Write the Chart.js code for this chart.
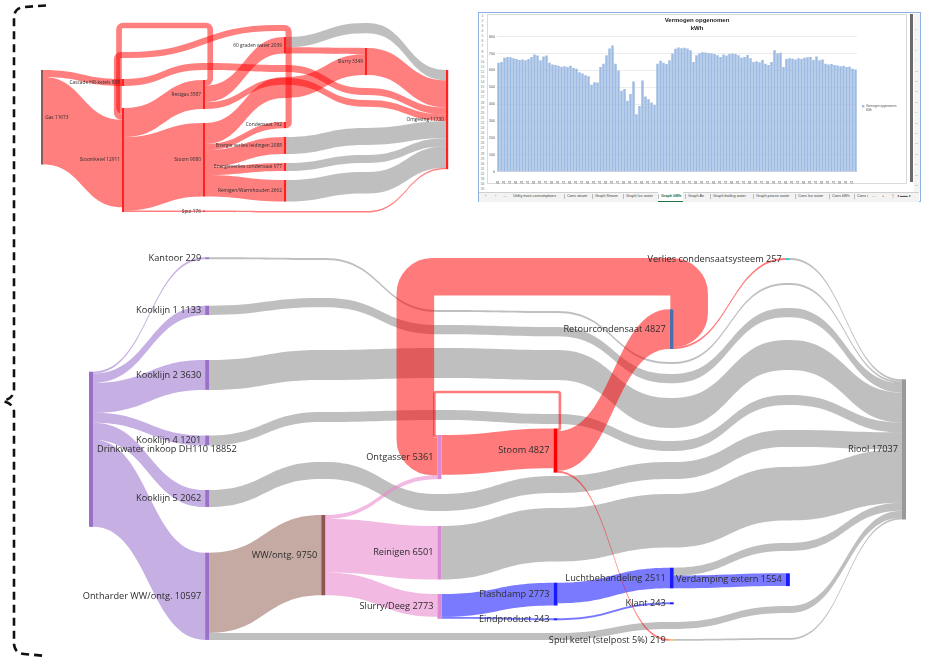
<!DOCTYPE html>
<html><head><meta charset="utf-8">
<script src="https://cdn.jsdelivr.net/npm/chart.js@4.4.1/dist/chart.umd.min.js"></script>
<style>
html,body{margin:0;padding:0;background:#fff;}
body{width:932px;height:660px;position:relative;overflow:hidden;font-family:"Open Sans",sans-serif;}
.box{position:absolute;}
#xl{position:absolute;left:478px;top:12px;width:443px;height:190px;border:1.5px solid #8eb1e3;box-sizing:border-box;background:#fff;}
.tiny{position:absolute;transform-origin:0 0;transform:scale(0.5);white-space:nowrap;font-family:"Liberation Sans",sans-serif;color:#555;}
</style></head><body>
<svg width="60" height="660" style="position:absolute;left:0;top:0">
<path d="M 46 5.5 L 24 7 Q 14 8 14 18 V 390 Q 14 398 3 401 Q 14 404 14 412 V 643 Q 14 653 24 654 L 46 656" fill="none" stroke="#111" stroke-width="2.6" stroke-dasharray="8 5"/>
</svg>

<div class="box" style="left:30px;top:15px;width:430px;height:205px"><canvas id="cSmall"></canvas></div>

<div id="xl">
  <div class="box" style="left:7.5px;top:0.5px;width:420px;height:170px;border:1px solid #dadada;box-sizing:border-box"></div>
  <div class="box" style="left:7.5px;top:0.5px;width:420px;height:170px"><canvas id="cKwh"></canvas></div>
  <div class="box" style="left:430.5px;top:0.5px;width:3px;height:168px;background:#6a6a6a"></div>
  <div class="box" style="left:434.5px;top:0.5px;width:6px;height:178px;background:#f4f4f4"></div>
  <div class="box" style="left:0;top:179px;width:440px;height:9px;background:#f3f3f3;border-top:0.5px solid #d0d0d0"></div>
  <div class="box" style="left:179px;top:179px;width:25px;height:8.5px;background:#fff;border-bottom:1px solid #217346"></div>
  <div id="xlText"></div>
</div>

<div class="box" style="left:0;top:230px;width:932px;height:430px"><canvas id="cMain"></canvas></div>

<script>
// ================= MAIN SANKEY DATA =================
const mainNodes = ["Drinkwater inkoop DH110","Kantoor","Kooklijn 1","Kooklijn 2","Kooklijn 4","Kooklijn 5",
  "Ontharder WW/ontg.","WW/ontg.","Ontgasser","Reinigen","Slurry/Deeg","Stoom","Flashdamp","Eindproduct",
  "Retourcondensaat","Luchtbehandeling","Klant","Spul ketel (stelpost 5%)","Verlies condensaatsysteem",
  "Verdamping extern","Riool"];
const mainNodeValues = [18852,229,1133,3630,1201,2062,10597,9750,5361,6501,2773,4827,2773,243,4827,2511,243,219,257,1554,17037];
const mainLinkSource = [0,0,0,0,0,0,6,11,14,7,7,7,8,11,11,14,10,10,12,13,18,1,2,3,4,5,9,15,6,17,15];
const mainLinkTarget = [1,2,3,4,5,6,7,8,8,8,9,10,11,14,17,18,12,13,15,16,20,20,20,20,20,20,20,20,20,20,19];
const mainLinkValue  = [229,1133,3630,1201,2062,10597,9750,315,4570,476,6501,2773,4827,4827,219,257,2773,243,2511,243,257,229,1133,3630,1201,2062,6501,957,847,219,1554];

// layout (column index, top position in value units)
const mainNodeColumn = [0,1,1,1,1,1,1,2,3,3,3,4,4,4,5,5,5,5,6,6,7];
const mainNodeTop = [17217,3317,9198,15795,24968,31590,39208,34628,24908,35964,44226,24118,42853,47178,9635,41030,45234,49694,3402,41711,18140];
const mainNodeColor = ['#9a70c8','#9a70c8','#9a70c8','#9a70c8','#9a70c8','#9a70c8','#9a70c8','#8e5551',
  '#d98ad3','#d98ad3','#d98ad3','#ff0000','#1a1aff','#1a1aff','#4b6fa8','#1a1aff','#1a1aff','#f5c06a','#3ec9d6','#1a1aff','#999999'];
const mainLinkKind = ['purple','purple','purple','purple','purple','purple','brown','red','red','pink','pink','pink',
  'red','red','red','red','blue','blue','blue','blue','grey','grey','grey','grey','grey','grey','grey','grey','grey','grey','blue'];
const mainLinkVia = {21:[3402,9720,9842,16038,6440], 22:[8262,11543,11786,17496,9477], 23:[14580,14337,14580,20412,13365],
  24:[22113,21870,22356,25637,20048], 25:[28188,32076,29889,28188,24300], 26:[33777,32076,28796], 27:[38030],
  28:[48965,48965,48965,47628,45684], 29:[49572]};
const mainLinkLoop = {7:{lane:[19683,19683],pad:[0.02,0.026],r:2}, 8:{lane:[5686,5686],pad:[0.133,0.19],r:17}};

// ================= SMALL SANKEY DATA =================
const smallNodes = ["Gas","Cascade HR-ketels","Stoomketel","Restgas","Stoom","Spui","60 graden water","Condensaat",
  "Energie verlies leidingen","Energieverlies condensaat","Reinigen/Warmhouden","Slurry","Omgeving"];
const smallNodeValues = [11673,865,12911,3587,9080,176,2039,762,2088,977,2662,3349,11730];
const smallLinkSource = [0,3,7,0,2,2,2,3,6,6,4,4,4,4,4,11,1,3,8,9,10,5];
const smallLinkTarget = [1,2,2,2,3,4,5,6,12,11,11,7,8,9,10,12,12,12,12,12,12,12];
const smallLinkValue  = [865,700,762,10808,3587,9080,176,2039,1281,758,2591,762,2088,977,2662,3349,865,848,2088,977,2662,176];
const smallNodeColumn = [0,1,1,2,2,2,3,3,3,3,3,4,5];
const smallNodeTop = [6793,7904,11486,8028,13338,24144,2717,13215,15067,18278,20378,4076,6793];
const smallNodeColor = ['#8b5a5a','#ff2020','#ff2020','#ff2020','#ff2020','#ff2020','#ff2020','#ff2020','#ff2020','#ff2020','#ff2020','#ff2020','#ff2020'];
const smallLinkKind = ['red','red','red','red','red','red','red','red','grey','red','red','red','red','red','red','red','red','red','grey','grey','grey','red'];
const smallLinkVia = {10:[7657], 16:[5928,6175,9016], 17:[7781,10498], 8:[988], 18:[13956], 19:[17290], 20:[19390], 21:[24206,24206]};
const smallLinkLoop = {1:{lane:[1297,1297],pad:[0.062,0.037],r:4}, 2:{lane:[1606,4940],pad:[0.03,0.062],r:4}};

// ================= KWH BAR CHART DATA =================
const kwhValues = [645,650,675,680,678,672,668,662,665,660,668,680,695,688,660,682,688,645,635,632,
  628,622,625,620,628,615,610,590,582,572,565,515,530,528,620,640,690,730,748,640,
  600,480,490,420,460,535,340,390,540,445,430,410,395,640,658,645,638,660,700,728,
  736,732,735,730,720,650,690,702,708,706,704,700,698,690,680,695,688,698,700,698,
  690,675,680,692,672,650,655,648,662,640,632,650,720,700,705,620,668,672,670,665,
  672,668,675,678,680,662,682,660,665,640,635,638,632,630,625,628,620,622,610,605];
const kwhLabels = kwhValues.map((_, i) => {
  const mins = 6 * 60 + i * 10; const h = Math.floor(mins / 60) % 24, mm = mins % 60;
  return String(h).padStart(2,'0') + ':' + String(mm).padStart(2,'0');
});
const kwhYTicks = [0,100,200,300,400,500,600,700,800];
const sheetTabs = ['Utility main consumptions','Cons steam','Graph Steam','Graph Ice water','Graph kWh','Graph Air','Graph boiling water','Graph proces water','Cons Ice water','Cons kWh','Cons i'];

// ================= SANKEY PLUGIN =================
const palette = {grey:'rgba(128,128,128,0.5)', purple:'rgba(140,95,200,0.5)', brown:'rgba(150,100,90,0.55)',
  pink:'rgba(232,135,205,0.58)', blue:'rgba(0,0,255,0.52)', red:'rgba(255,0,0,0.52)'};
const smallPalette = {grey:'rgba(128,128,128,0.5)', red:'rgba(255,0,0,0.5)'};
const layerOrder = {grey:0, purple:1, brown:2, pink:3, blue:4, red:5};

const sankeyPlugin = {
  id: 'sankey',
  afterDatasetsDraw(chart, args, o) {
    if (!o || !o.names) return;
    const ctx = chart.ctx, xs = chart.scales.x, ys = chart.scales.y;
    const X = c => xs.getPixelForValue(c);
    const Y = v => ys.getPixelForValue(v);
    const n = o.names.length, m = o.source.length;
    const inSum = new Array(n).fill(0), outSum = new Array(n).fill(0);
    for (let i = 0; i < m; i++) { outSum[o.source[i]] += o.value[i]; inSum[o.target[i]] += o.value[i]; }
    const size = inSum.map((v, i) => Math.max(v, outSum[i]));
    const outOff = new Array(n).fill(0), inOff = new Array(n).fill(0);
    const links = [];
    for (let i = 0; i < m; i++) {
      const s = o.source[i], t = o.target[i], v = o.value[i];
      const sTop = o.top[s] + outOff[s]; outOff[s] += v;
      const tTop = o.top[t] + inOff[t]; inOff[t] += v;
      links.push({i, s, t, v, sTop, tTop});
    }
    const W = o.nodeWidth;
    const order = links.slice().sort((a, b) => (layerOrder[o.kind[a.i]] - layerOrder[o.kind[b.i]]) || (a.i - b.i));
    ctx.save();
    for (const L of order) {
      const color = o.palette[o.kind[L.i]];
      const loop = o.loops[L.i];
      const xs0 = X(o.column[L.s]) + W, xt0 = X(o.column[L.t]);
      if (loop) {
        const th = Y(L.sTop + L.v) - Y(L.sTop);
        const y0 = Y(L.sTop + L.v / 2), y1 = Y(L.tTop + L.v / 2);
        const xr = X(o.column[L.s] + loop.pad[0]) + W, xl = X(o.column[L.t] - loop.pad[1]);
        const yR = Y(loop.lane[0]), yL = Y(loop.lane[1]);
        const r1 = Math.min(loop.r, xr - xs0, Math.abs(y0 - yR) / 2);
        const r2 = Math.min(loop.r, Math.abs(y0 - yR) / 2, Math.abs(xr - xl) / 2);
        const r3 = Math.min(loop.r, Math.abs(y1 - yL) / 2, Math.abs(xr - xl) / 2);
        const r4 = Math.min(loop.r, xt0 - xl, Math.abs(y1 - yL) / 2);
        ctx.beginPath();
        ctx.moveTo(xs0, y0);
        ctx.arcTo(xr, y0, xr, yR, r1);
        ctx.arcTo(xr, yR, xl, yR, r2);
        if (Math.abs(yR - yL) > 0.5) {
          const a = xr - r2 - 8, b = xl + r3 + 8;
          ctx.lineTo(a, yR);
          const mx = (a + b) / 2;
          ctx.bezierCurveTo(mx, yR, mx, yL, b, yL);
        }
        ctx.arcTo(xl, yL, xl, y1, r3);
        ctx.arcTo(xl, y1, xt0, y1, r4);
        ctx.lineTo(xt0, y1);
        ctx.lineWidth = th; ctx.strokeStyle = color; ctx.lineCap = 'butt'; ctx.lineJoin = 'round';
        ctx.stroke();
      } else {
        const th = Y(L.sTop + L.v) - Y(L.sTop);
        const pts = [[xs0, Y(L.sTop)]];
        (o.via[L.i] || []).forEach((v, k) => {
          const c = o.column[L.s] + 1 + k;
          pts.push([X(c), Y(v)], [X(c) + W, Y(v)]);
        });
        pts.push([xt0, Y(L.tTop)]);
        const seg = (a, b, off) => {
          if (Math.abs(a[0] - b[0]) < 0.01) ctx.lineTo(b[0], b[1] + off);
          else { const mx = (a[0] + b[0]) / 2; ctx.bezierCurveTo(mx, a[1] + off, mx, b[1] + off, b[0], b[1] + off); }
        };
        ctx.beginPath();
        ctx.moveTo(pts[0][0], pts[0][1]);
        for (let k = 1; k < pts.length; k++) seg(pts[k - 1], pts[k], 0);
        const last = pts[pts.length - 1];
        ctx.lineTo(last[0], last[1] + th);
        for (let k = pts.length - 1; k > 0; k--) seg(pts[k], pts[k - 1], th);
        ctx.closePath();
        ctx.fillStyle = color;
        ctx.fill();
      }
    }
    // nodes
    for (let i = 0; i < n; i++) {
      const y0 = Y(o.top[i]), h = Math.max(Y(o.top[i] + size[i]) - y0, o.minNodeH);
      ctx.fillStyle = o.nodeColor[i];
      ctx.fillRect(X(o.column[i]), y0, W, h);
    }
    // labels
    ctx.font = o.font; ctx.fillStyle = o.labelColor; ctx.textBaseline = 'middle';
    for (let i = 0; i < n; i++) {
      const yc = Y(o.top[i] + size[i] / 2);
      const txt = o.names[i] + ' ' + o.labelValues[i];
      if (o.column[i] === 0) { ctx.textAlign = 'left'; ctx.fillText(txt, X(o.column[i]) + W + o.gap, yc); }
      else { ctx.textAlign = 'right'; ctx.fillText(txt, X(o.column[i]) - o.gap, yc); }
    }
    ctx.restore();
  }
};

function sankeyChart(id, cfg, xr, ymax) {
  return new Chart(document.getElementById(id), {
    type: 'scatter',
    data: { datasets: [] },
    options: {
      responsive: true, maintainAspectRatio: false, animation: false,
      layout: { padding: 0 },
      events: [],
      scales: {
        x: { type: 'linear', min: xr[0], max: xr[1], display: false },
        y: { type: 'linear', min: 0, max: ymax, reverse: true, display: false }
      },
      plugins: { legend: { display: false }, tooltip: { enabled: false }, sankey: cfg }
    },
    plugins: [sankeyPlugin]
  });
}

sankeyChart('cMain', {
  names: mainNodes, labelValues: mainNodeValues, source: mainLinkSource, target: mainLinkTarget, value: mainLinkValue,
  column: mainNodeColumn, top: mainNodeTop, nodeColor: mainNodeColor, kind: mainLinkKind, palette: palette,
  via: mainLinkVia, loops: mainLinkLoop, nodeWidth: 4, minNodeH: 1.6, gap: 4,
  font: '9.2px "Open Sans"', labelColor: '#2c2c2c'
}, [-0.76632, 7.2585], 52245);

sankeyChart('cSmall', {
  names: smallNodes, labelValues: smallNodeValues, source: smallLinkSource, target: smallLinkTarget, value: smallLinkValue,
  column: smallNodeColumn, top: smallNodeTop, nodeColor: smallNodeColor, kind: smallLinkKind, palette: smallPalette,
  via: smallLinkVia, loops: smallLinkLoop, nodeWidth: 2.2, minNodeH: 1, gap: 2,
  font: '4.8px "Open Sans"', labelColor: '#2c2c2c'
}, [-0.1358, 5.1728], 25318);

// ================= KWH BAR CHART =================
const kwhDecor = {
  id: 'kwhDecor',
  afterDraw(chart) {
    const ctx = chart.ctx;
    ctx.save();
    ctx.fillStyle = '#222'; ctx.textAlign = 'center'; ctx.textBaseline = 'middle';
    ctx.font = 'bold 6px "Liberation Sans"';
    ctx.fillText('Vermogen opgenomen', 210, 6.5);
    ctx.fillText('kWh', 210, 14.5);
    ctx.fillStyle = '#9dbbe3'; ctx.fillRect(375, 91, 2.4, 2.4);
    ctx.fillStyle = '#555'; ctx.textAlign = 'left'; ctx.font = '3px "Liberation Sans"';
    ctx.fillText('Vermogen opgenomen', 379, 92.2);
    ctx.fillText('kWh', 379, 96.2);
    ctx.restore();
  }
};
new Chart(document.getElementById('cKwh'), {
  type: 'bar',
  data: { labels: kwhLabels, datasets: [{ label: 'Vermogen opgenomen kWh', data: kwhValues, backgroundColor: '#9dbbe3',
    borderWidth: 0, barPercentage: 0.82, categoryPercentage: 1 }] },
  options: {
    responsive: true, maintainAspectRatio: false, animation: false, events: [],
    layout: { padding: { left: 0, right: 50, top: 22.7, bottom: 0 } },
    scales: {
      x: { ticks: { font: { size: 2.6 }, color: '#666', maxRotation: 90, minRotation: 90, autoSkip: false, padding: 1,
             callback: (v, i) => (i % 2 === 0 ? kwhLabels[i] : '') },
           grid: { display: false }, border: { color: '#d0d0d0', width: 0.5 },
           afterFit: s => { s.height = 12.3; } },
      y: { min: 0, max: 800, afterBuildTicks: s => { s.ticks = kwhYTicks.map(v => ({ value: v })); },
           ticks: { font: { size: 3.6 }, color: '#595959', padding: 2 },
           grid: { color: '#d9d9d9', lineWidth: 0.5, drawTicks: false }, border: { display: false },
           afterFit: s => { s.width = 10; } }
    },
    plugins: { legend: { display: false }, tooltip: { enabled: false } }
  },
  plugins: [kwhDecor]
});

// ================= SPREADSHEET CHROME (row numbers, tabs) =================
(function () {
  const host = document.getElementById('xlText');
  let html = '';
  for (let r = 1; r <= 35; r++) {
    const top = 0.8 + (r - 1) * 5.1;
    html += `<div class="tiny" style="left:0;top:${top}px;width:14px;text-align:center;font-size:6.4px;line-height:7px;color:#777">${r}</div>`;
  }
  for (let r = 1; r <= 16; r++) {
    const top = 14 + (r - 1) * 10.4;
    html += `<div class="tiny" style="left:436px;top:${top}px;font-size:5px;line-height:6px;color:#999">${r + 5}</div>`;
  }
  const tabX = [33.5, 87.5, 115.5, 146.5, 181.5, 208.5, 233.5, 276.5, 318.5, 352.5, 377.5];
  sheetTabs.forEach((t, i) => {
    const active = t === 'Graph kWh';
    html += `<div class="tiny" style="left:${tabX[i]}px;top:181.2px;font-size:7.6px;line-height:8px;${active ? 'font-weight:bold;color:#1e6b3a' : 'color:#444'}">${t}</div>`;
    if (i > 0) html += `<div class="box" style="left:${tabX[i] - 3}px;top:181px;width:0.5px;height:5px;background:#bbb"></div>`;
  });
  const misc = [['‹', 5.5], ['›', 15.5], ['…', 23.5], ['…', 392.5], ['+', 402.5], ['⋮', 411.5], ['◂ ▬▬ ▸', 417.5]];
  misc.forEach(([t, x]) => { html += `<div class="tiny" style="left:${x}px;top:181.2px;font-size:7.6px;line-height:8px;color:#555">${t}</div>`; });
  host.innerHTML = html;
})();
</script>
</body></html>
